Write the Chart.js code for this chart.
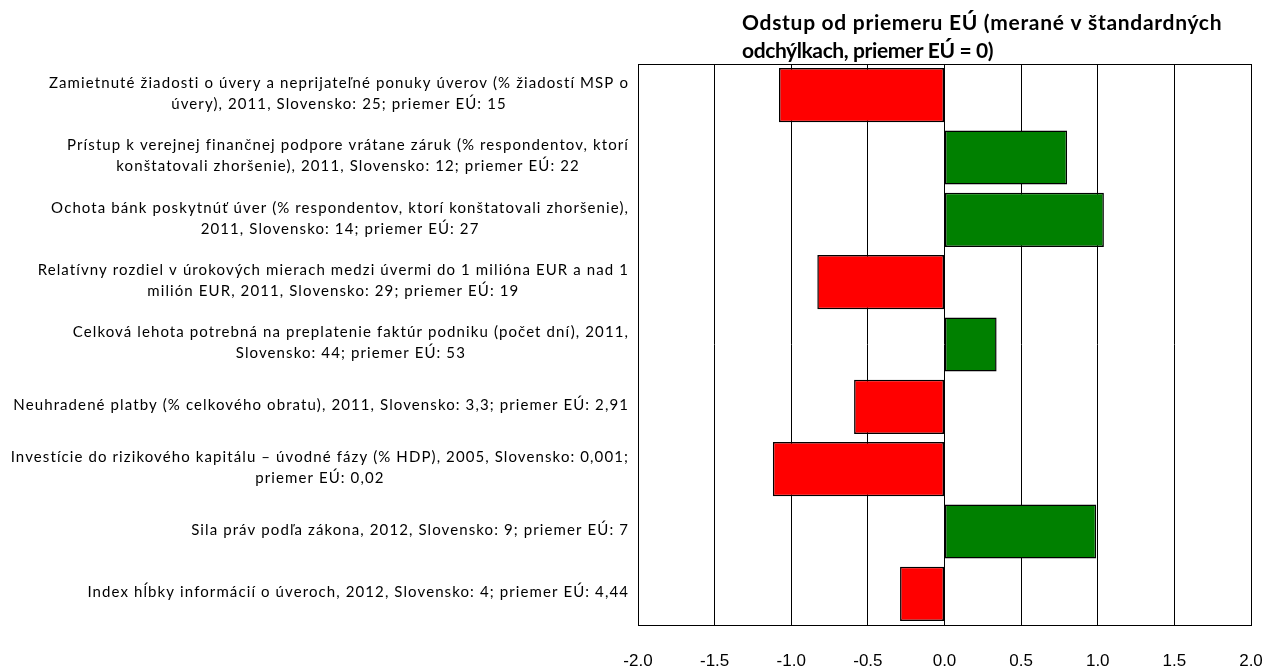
<!DOCTYPE html>
<html>
<head>
<meta charset="utf-8">
<script src="https://cdn.jsdelivr.net/npm/chart.js@4"></script>
<style>
  body { margin: 0; background: #fff; }
</style>
</head>
<body>
<canvas id="chart" width="1274" height="666"></canvas>
<script>
const titleLines = [
  "Odstup od priemeru EÚ (merané v štandardných",
  "odchýlkach, priemer EÚ = 0)"
];

const categories = [
  ["Zamietnuté žiadosti o úvery a neprijateľné ponuky úverov (% žiadostí MSP o", "úvery), 2011, Slovensko: 25; priemer EÚ: 15"],
  ["Prístup k verejnej finančnej podpore vrátane záruk (% respondentov, ktorí", "konštatovali zhoršenie), 2011, Slovensko: 12; priemer EÚ: 22"],
  ["Ochota bánk poskytnúť úver (% respondentov, ktorí konštatovali zhoršenie),", "2011, Slovensko: 14; priemer EÚ: 27"],
  ["Relatívny rozdiel v úrokových mierach medzi úvermi do 1 milióna EUR a nad 1", "milión EUR, 2011, Slovensko: 29; priemer EÚ: 19"],
  ["Celková lehota potrebná na preplatenie faktúr podniku (počet dní), 2011,", "Slovensko: 44; priemer EÚ: 53"],
  ["Neuhradené platby (% celkového obratu), 2011, Slovensko: 3,3; priemer EÚ: 2,91"],
  ["Investície do rizikového kapitálu – úvodné fázy (% HDP), 2005, Slovensko: 0,001;", "priemer EÚ: 0,02"],
  ["Sila práv podľa zákona, 2012, Slovensko: 9; priemer EÚ: 7"],
  ["Index hĺbky informácií o úveroch, 2012, Slovensko: 4; priemer EÚ: 4,44"]
];

const deviation = [-1.08, 0.80, 1.04, -0.83, 0.34, -0.59, -1.12, 0.99, -0.29];

const xTicks = [-2.0, -1.5, -1.0, -0.5, 0.0, 0.5, 1.0, 1.5, 2.0];

// draw the frame, category labels and the title
const extrasPlugin = {
  id: "extras",
  afterDraw(chart) {
    const ctx = chart.ctx;
    const area = chart.chartArea;
    const y = chart.scales.y;

    ctx.save();
    ctx.strokeStyle = "#000";
    ctx.lineWidth = 1;
    ctx.strokeRect(area.left + 0.5, area.top + 0.5, area.right - area.left, area.bottom - area.top);

    ctx.fillStyle = "#000";
    ctx.font = "15px Lato";
    ctx.letterSpacing = "1.1px";
    ctx.textAlign = "center";
    ctx.textBaseline = "middle";
    const lineH = 21;
    const rightEdge = 629;
    categories.forEach((lines, i) => {
      const cy = y.getPixelForTick(i) - 1.5;
      const w = Math.max(...lines.map(l => ctx.measureText(l).width));
      const cx = rightEdge - w / 2;
      lines.forEach((l, j) => {
        ctx.fillText(l, cx, cy + (j - (lines.length - 1) / 2) * lineH);
      });
    });

    ctx.font = "bold 21px Lato";
    ctx.textAlign = "left";
    ctx.letterSpacing = "0.7px";
    ctx.fillText(titleLines[0], 742, 23);
    ctx.letterSpacing = "-0.4px";
    ctx.fillText(titleLines[1], 742, 51);
    ctx.letterSpacing = "0px";
    ctx.restore();
  }
};

new Chart(document.getElementById("chart"), {
  type: "bar",
  data: {
    labels: categories.map(c => c.join(" ")),
    datasets: [{
      data: deviation,
      backgroundColor: deviation.map(v => v < 0 ? "#ff0000" : "#008000"),
      borderColor: "#000",
      borderWidth: 1.5,
      borderSkipped: false,
      barPercentage: 0.87,
      categoryPercentage: 1.0
    }]
  },
  options: {
    indexAxis: "y",
    responsive: false,
    animation: false,
    layout: { padding: { top: 64, right: 23, left: 0, bottom: 0 } },
    plugins: {
      legend: { display: false },
      tooltip: { enabled: false },
      title: { display: false }
    },
    scales: {
      x: {
        min: -2,
        max: 2,
        afterBuildTicks(scale) {
          scale.ticks = xTicks.map(v => ({ value: v }));
        },
        afterFit(scale) {
          scale.height = 41;
          scale.paddingLeft = 0;
          scale.paddingRight = 0;
        },
        grid: { color: "#000", lineWidth: 1, drawTicks: false },
        border: { display: false },
        ticks: {
          color: "#000",
          padding: 26,
          font: { family: "Liberation Sans", size: 17 },
          callback: v => Number(v).toFixed(1)
        }
      },
      y: {
        afterFit(scale) { scale.width = 638; },
        grid: { display: false },
        border: { display: false },
        ticks: { display: false }
      }
    }
  },
  plugins: [extrasPlugin]
});
</script>
</body>
</html>
